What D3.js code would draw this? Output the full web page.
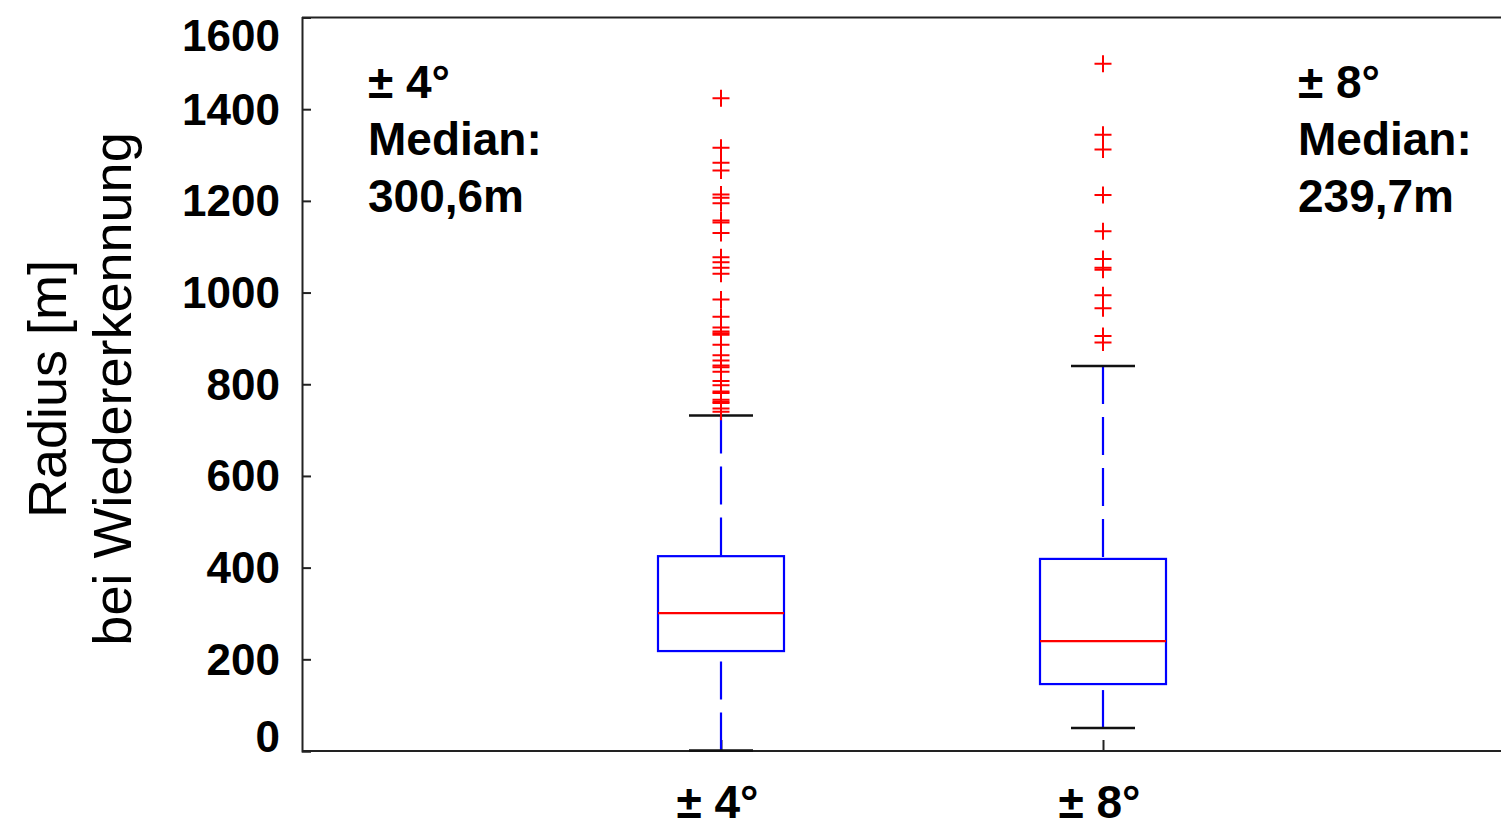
<!DOCTYPE html>
<html>
<head>
<meta charset="utf-8">
<script src="https://cdn.jsdelivr.net/npm/d3@7"></script>
<style>
  html, body { margin: 0; padding: 0; background: #ffffff; }
  svg { display: block; font-family: "Liberation Sans", Arial, sans-serif; }
</style>
</head>
<body>
<svg id="chart" width="1501" height="833"></svg>
<script>
// Group labels and box statistics (metres)
const categories = ["± 4°", "± 8°"];
const lowerWhisker = [1, 50];
const quartile1 = [218, 146];
const medians = [300.6, 239.7];
const quartile3 = [425, 419];
const upperWhisker = [732, 840];

// Points beyond the upper whisker, per group
const outliers4 = [1424, 1316, 1283, 1266, 1214, 1207, 1195, 1157, 1153, 1130,
  1077, 1066, 1054, 1041, 985, 947, 924, 915, 911, 908, 886, 863, 852, 841,
  837, 827, 807, 798, 784, 781, 766, 762, 759, 747, 740];
const outliers8 = [1499, 1344, 1312, 1213, 1134, 1073, 1054, 1050, 994, 966, 905, 891];
const outliers = [outliers4, outliers8];

const yTicks = [0, 200, 400, 600, 800, 1000, 1200, 1400, 1600];

const svg = d3.select("#chart");

const y = d3.scaleLinear().domain([0, 1600]).range([751, 17.5]);
const x = d3.scalePoint().domain(categories).range([721, 1103]);
const left = 302, right = 1520;
const boxW = 126, capW = 64;

// Frame: top line
svg.append("line")
  .attr("x1", left).attr("x2", right)
  .attr("y1", y(1600)).attr("y2", y(1600))
  .attr("stroke", "#222").attr("stroke-width", 2);

// Y axis with inward ticks
const yAxis = svg.append("g")
  .attr("transform", `translate(${left},0)`)
  .call(d3.axisLeft(y).tickValues(yTicks).tickSize(-9).tickPadding(22).tickFormat(d3.format("d")));
yAxis.select(".domain").attr("stroke", "#222").attr("stroke-width", 2);
yAxis.selectAll(".tick line").attr("stroke", "#222").attr("stroke-width", 2);
yAxis.selectAll(".tick text")
  .attr("fill", "#000")
  .style("font-size", "44px")
  .style("font-weight", "bold")
  .attr("dy", d => d === 0 ? "0.0em" : d === 1600 ? "0.75em" : "0.34em");

// X axis with inward ticks
const xAxis = svg.append("g")
  .attr("transform", `translate(0,${y(0)})`)
  .call(d3.axisBottom(x).tickSize(-11).tickPadding(34));
xAxis.select(".domain").attr("d", `M${left},0H${right}`).attr("stroke", "#222").attr("stroke-width", 2);
xAxis.selectAll(".tick line").attr("stroke", "#222").attr("stroke-width", 2);
xAxis.selectAll(".tick text")
  .attr("fill", "#000")
  .attr("dx", -4)
  .style("font-size", "46px")
  .style("font-weight", "bold");

// Y axis title, two lines
const yTitle = svg.append("text")
  .attr("transform", "translate(0,389) rotate(-90)")
  .attr("text-anchor", "middle")
  .style("font-size", "54px")
  .attr("fill", "#000");
yTitle.append("tspan").attr("x", 0).attr("y", 66).text("Radius [m]");
yTitle.append("tspan").attr("x", 0).attr("y", 131).text("bei Wiedererkennung");

// Boxes
const groups = svg.selectAll("g.box")
  .data(categories.map((c, i) => ({
    c, lo: lowerWhisker[i], q1: quartile1[i], med: medians[i],
    q3: quartile3[i], hi: upperWhisker[i], out: outliers[i]
  })))
  .join("g").attr("class", "box");

// Whiskers are dashed from the whisker end towards the box
groups.append("line")
  .attr("x1", d => x(d.c)).attr("x2", d => x(d.c))
  .attr("y1", d => y(d.hi)).attr("y2", d => y(d.q3))
  .attr("stroke", "#0000ff").attr("stroke-width", 2.2)
  .attr("stroke-dasharray", "38,13");
groups.append("line")
  .attr("x1", d => x(d.c)).attr("x2", d => x(d.c))
  .attr("y1", d => y(d.lo)).attr("y2", d => y(d.q1))
  .attr("stroke", "#0000ff").attr("stroke-width", 2.2)
  .attr("stroke-dasharray", "38,13");

// Whisker caps
groups.selectAll("line.cap")
  .data(d => [d.lo, d.hi].map(v => ({ c: d.c, v })))
  .join("line").attr("class", "cap")
  .attr("x1", d => x(d.c) - capW / 2).attr("x2", d => x(d.c) + capW / 2)
  .attr("y1", d => y(d.v)).attr("y2", d => y(d.v))
  .attr("stroke", "#111").attr("stroke-width", 2.5);

// Interquartile box
groups.append("rect")
  .attr("x", d => x(d.c) - boxW / 2)
  .attr("width", boxW)
  .attr("y", d => y(d.q3))
  .attr("height", d => y(d.q1) - y(d.q3))
  .attr("fill", "none").attr("stroke", "#0000ff").attr("stroke-width", 2.2);

// Median line
groups.append("line")
  .attr("x1", d => x(d.c) - boxW / 2).attr("x2", d => x(d.c) + boxW / 2)
  .attr("y1", d => y(d.med)).attr("y2", d => y(d.med))
  .attr("stroke", "#ff0000").attr("stroke-width", 2.2);

// Outlier markers (+)
const s = 8.5;
groups.selectAll("path.out")
  .data(d => d.out.map(v => ({ c: d.c, v })))
  .join("path").attr("class", "out")
  .attr("d", d => {
    const cx = x(d.c), cy = y(d.v);
    return `M${cx - s},${cy}H${cx + s}M${cx},${cy - s}V${cy + s}`;
  })
  .attr("stroke", "#ff0000").attr("stroke-width", 2).attr("fill", "none");

// Median annotations
const fmt = v => d3.format(".1f")(v).replace(".", ",") + "m";
const notes = [{ x: 368, i: 0 }, { x: 1298, i: 1 }];
notes.forEach(n => {
  const t = svg.append("text")
    .attr("fill", "#000")
    .style("font-size", "46px")
    .style("font-weight", "bold");
  [categories[n.i], "Median:", fmt(medians[n.i])].forEach((line, k) => {
    t.append("tspan").attr("x", n.x).attr("y", 97.5 + k * 57).text(line);
  });
});
</script>
</body>
</html>
